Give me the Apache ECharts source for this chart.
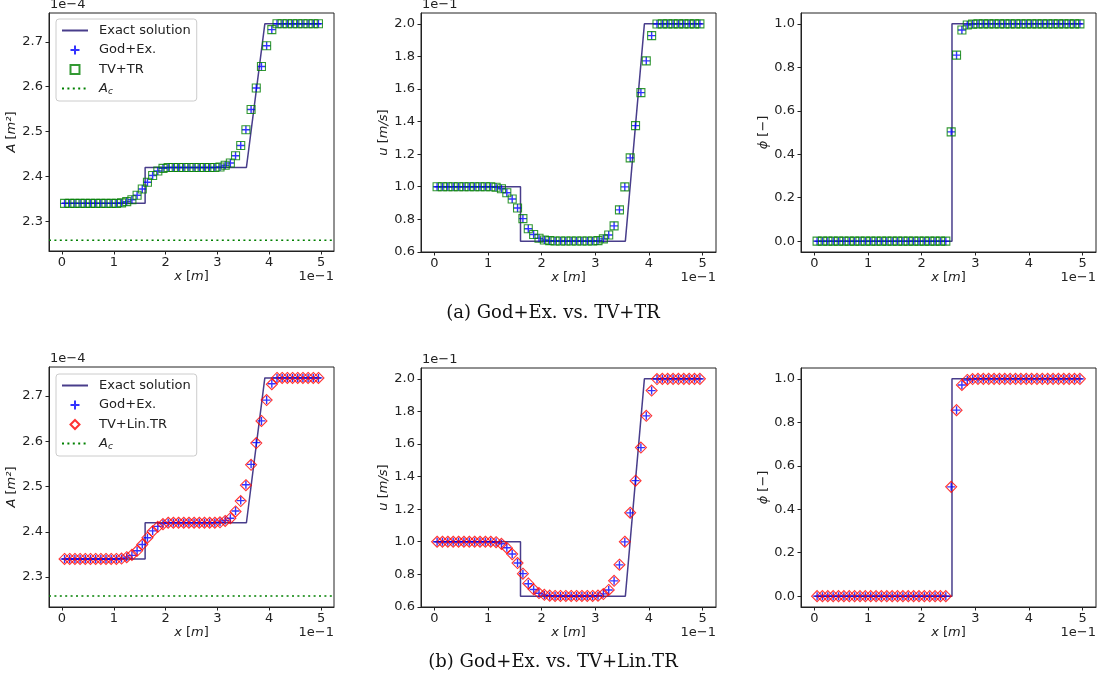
<!DOCTYPE html>
<html>
<head>
<meta charset="utf-8">
<script src="https://cdn.jsdelivr.net/npm/echarts@6/dist/echarts.min.js"></script>
<style>
  html, body { margin: 0; padding: 0; background: #ffffff; }
  #chart { width: 1097px; height: 686px; }
</style>
</head>
<body>
<div id="chart"></div>
<script>
// Cell centres, in units of 1e-1 m
const xCells = [0.05, 0.15, 0.25, 0.35, 0.45, 0.55, 0.65, 0.75, 0.85, 0.95,
                1.05, 1.15, 1.25, 1.35, 1.45, 1.55, 1.65, 1.75, 1.85, 1.95,
                2.05, 2.15, 2.25, 2.35, 2.45, 2.55, 2.65, 2.75, 2.85, 2.95,
                3.05, 3.15, 3.25, 3.35, 3.45, 3.55, 3.65, 3.75, 3.85, 3.95,
                4.05, 4.15, 4.25, 4.35, 4.45, 4.55, 4.65, 4.75, 4.85, 4.95];

// Cross-section A (1e-4 m^2)
const godA = [2.340, 2.340, 2.340, 2.340, 2.340, 2.340, 2.340, 2.340, 2.340, 2.340,
              2.340, 2.341, 2.344, 2.348, 2.358, 2.372, 2.387, 2.402, 2.412, 2.418,
              2.420, 2.420, 2.420, 2.420, 2.420, 2.420, 2.420, 2.420, 2.420, 2.420,
              2.421, 2.425, 2.430, 2.446, 2.469, 2.504, 2.549, 2.597, 2.645, 2.691,
              2.727, 2.740, 2.740, 2.740, 2.740, 2.740, 2.740, 2.740, 2.740, 2.740];
const tvA   = [2.340, 2.340, 2.340, 2.340, 2.340, 2.340, 2.340, 2.340, 2.340, 2.340,
              2.340, 2.341, 2.344, 2.348, 2.358, 2.372, 2.387, 2.402, 2.412, 2.418,
              2.420, 2.420, 2.420, 2.420, 2.420, 2.420, 2.420, 2.420, 2.420, 2.420,
              2.421, 2.425, 2.430, 2.446, 2.469, 2.504, 2.549, 2.597, 2.645, 2.691,
              2.727, 2.740, 2.740, 2.740, 2.740, 2.740, 2.740, 2.740, 2.740, 2.740];
const linA  = [2.340, 2.340, 2.340, 2.340, 2.340, 2.340, 2.340, 2.340, 2.340, 2.340,
              2.340, 2.341, 2.344, 2.349, 2.358, 2.372, 2.387, 2.401, 2.411, 2.417,
              2.420, 2.420, 2.420, 2.420, 2.420, 2.420, 2.420, 2.420, 2.420, 2.420,
              2.421, 2.424, 2.430, 2.445, 2.468, 2.503, 2.548, 2.596, 2.645, 2.691,
              2.726, 2.740, 2.740, 2.740, 2.740, 2.740, 2.740, 2.740, 2.740, 2.740];

// Velocity u (1e-1 m/s)
const godU = [1.000, 1.000, 1.000, 1.000, 1.000, 1.000, 1.000, 1.000, 1.000, 1.000,
              1.000, 0.997, 0.988, 0.963, 0.925, 0.869, 0.804, 0.742, 0.707, 0.684,
              0.673, 0.669, 0.667, 0.667, 0.667, 0.667, 0.667, 0.667, 0.667, 0.667,
              0.669, 0.680, 0.704, 0.760, 0.858, 0.999, 1.177, 1.375, 1.578, 1.773,
              1.928, 1.999, 2.000, 2.000, 2.000, 2.000, 2.000, 2.000, 2.000, 2.000];
const tvU   = [1.000, 1.000, 1.000, 1.000, 1.000, 1.000, 1.000, 1.000, 1.000, 1.000,
              1.000, 0.997, 0.988, 0.963, 0.925, 0.869, 0.804, 0.742, 0.707, 0.684,
              0.673, 0.669, 0.667, 0.667, 0.667, 0.667, 0.667, 0.667, 0.667, 0.667,
              0.669, 0.680, 0.704, 0.760, 0.858, 0.999, 1.177, 1.375, 1.578, 1.773,
              1.928, 1.999, 2.000, 2.000, 2.000, 2.000, 2.000, 2.000, 2.000, 2.000];
const linU  = [1.000, 1.000, 1.000, 1.000, 1.000, 1.000, 1.000, 1.000, 1.000, 1.000,
              1.000, 0.997, 0.987, 0.962, 0.924, 0.869, 0.804, 0.744, 0.708, 0.685,
              0.674, 0.669, 0.667, 0.667, 0.667, 0.667, 0.667, 0.667, 0.667, 0.667,
              0.669, 0.679, 0.704, 0.760, 0.859, 1.000, 1.178, 1.375, 1.578, 1.773,
              1.928, 1.999, 2.000, 2.000, 2.000, 2.000, 2.000, 2.000, 2.000, 2.000];

// Volume fraction phi (-)
const godPhi = [0, 0, 0, 0, 0, 0, 0, 0, 0, 0,
                0, 0, 0, 0, 0, 0, 0, 0, 0, 0,
                0, 0, 0, 0, 0, 0.503, 0.856, 0.972, 0.995, 0.999,
                1, 1, 1, 1, 1, 1, 1, 1, 1, 1,
                1, 1, 1, 1, 1, 1, 1, 1, 1, 1];
const tvPhi  = [0, 0, 0, 0, 0, 0, 0, 0, 0, 0,
                0, 0, 0, 0, 0, 0, 0, 0, 0, 0,
                0, 0, 0, 0, 0, 0.503, 0.856, 0.972, 0.995, 0.999,
                1, 1, 1, 1, 1, 1, 1, 1, 1, 1,
                1, 1, 1, 1, 1, 1, 1, 1, 1, 1];
const linPhi = [0, 0, 0, 0, 0, 0, 0, 0, 0, 0,
                0, 0, 0, 0, 0, 0, 0, 0, 0, 0,
                0, 0, 0, 0, 0, 0.503, 0.856, 0.972, 0.995, 0.999,
                1, 1, 1, 1, 1, 1, 1, 1, 1, 1,
                1, 1, 1, 1, 1, 1, 1, 1, 1, 1];

// Exact Riemann solution (breakpoints)
const exactAX   = [0, 1.605, 1.605, 3.56, 3.915, 5];
const exactAY   = [2.340, 2.340, 2.420, 2.420, 2.740, 2.740];
const exactUX   = [0, 1.605, 1.605, 3.56, 3.915, 5];
const exactUY   = [1.000, 1.000, 0.666, 0.666, 2.000, 2.000];
const exactPhiX = [0, 2.565, 2.565, 5];
const exactPhiY = [0, 0, 1, 1];

// Critical cross-section A_c (1e-4 m^2)
const Ac = 2.258;

// Axis limits and tick labels
const xLim = [-0.25, 5.25];
const xTicks = [0, 1, 2, 3, 4, 5];
const aLim = [2.2339, 2.7641];
const aTicks = [2.3, 2.4, 2.5, 2.6, 2.7];
const uLim = [0.5993, 2.0667];
const uTicks = [0.6, 0.8, 1.0, 1.2, 1.4, 1.6, 1.8, 2.0];
const phiLim = [-0.05, 1.05];
const phiTicks = [0.0, 0.2, 0.4, 0.6, 0.8, 1.0];

const yNames = ['{i|A} [{i|m²}]', '{i|u} [{i|m/s}]', '{i|ϕ} [−]'];
const offsetTexts = ['1e−4', '1e−1', ''];
const captions = ['(a) God+Ex. vs. TV+TR', '(b) God+Ex. vs. TV+Lin.TR'];

// ---- layout ----
const grids = [
  { left: 49,  top: 13,  width: 285, height: 238 },
  { left: 421, top: 13,  width: 295, height: 239 },
  { left: 801, top: 13,  width: 295, height: 239 },
  { left: 49,  top: 367, width: 285, height: 240 },
  { left: 421, top: 368, width: 295, height: 239 },
  { left: 801, top: 368, width: 295, height: 239 }
];

const FONT = 'DejaVu Sans';
const INK = '#222222';
const EXACT_COLOR = '#483d8b';
const PLUS = 'path://M0,5L10,5M5,0L5,10';
const SQUARE = 'path://M0,0L10,0L10,10L0,10Z';
const DIAMOND = 'path://M5,0L10,5L5,10L0,5Z';

const pairs = (xs, ys) => xs.map((x, i) => [x, ys[i]]);

const yLims = [aLim, uLim, phiLim];
const yTicks = [aTicks, uTicks, phiTicks];
const yNameGaps = [25, 25, 25];
const exactX = [exactAX, exactUX, exactPhiX];
const exactY = [exactAY, exactUY, exactPhiY];
const godRows = [godA, godU, godPhi];
const tvRows = [tvA, tvU, tvPhi];
const linRows = [linA, linU, linPhi];

const italicRich = {
  i: { fontStyle: 'italic', fontSize: 13, fontFamily: FONT, color: INK }
};

const xAxes = [], yAxes = [], series = [], graphics = [];

grids.forEach((g, k) => {
  const row = k < 3 ? 0 : 1;
  const col = k % 3;

  xAxes.push({
    type: 'value', gridIndex: k, min: xLim[0], max: xLim[1],
    name: '{i|x} [{i|m}]', nameLocation: 'middle', nameGap: 19,
    nameTextStyle: { fontSize: 13, color: INK, fontFamily: FONT, rich: italicRich },
    axisLine: { show: true, onZero: false, lineStyle: { color: INK, width: 1 } },
    axisTick: { show: true, length: 3.5, lineStyle: { color: INK, width: 1 }, customValues: xTicks },
    axisLabel: { customValues: xTicks, margin: 5, fontSize: 13, color: INK, fontFamily: FONT,
                 formatter: v => String(Math.round(v)) },
    splitLine: { show: false }
  });

  yAxes.push({
    type: 'value', gridIndex: k, min: yLims[col][0], max: yLims[col][1],
    name: yNames[col], nameLocation: 'middle', nameGap: yNameGaps[col], nameRotate: 90,
    nameTextStyle: { fontSize: 13, color: INK, fontFamily: FONT, rich: italicRich },
    axisLine: { show: true, onZero: false, lineStyle: { color: INK, width: 1 } },
    axisTick: { show: true, length: 3.5, lineStyle: { color: INK, width: 1 }, customValues: yTicks[col] },
    axisLabel: { customValues: yTicks[col], margin: 6, fontSize: 13, color: INK, fontFamily: FONT,
                 formatter: v => v.toFixed(1) },
    splitLine: { show: false }
  });

  series.push({
    name: 'Exact solution', type: 'line', xAxisIndex: k, yAxisIndex: k,
    data: pairs(exactX[col], exactY[col]), symbol: 'none', showSymbol: false,
    lineStyle: { color: EXACT_COLOR, width: 1.5 }, itemStyle: { color: EXACT_COLOR },
    z: 2, silent: true
  });

  series.push({
    name: 'God+Ex.', type: 'scatter', xAxisIndex: k, yAxisIndex: k,
    data: pairs(xCells, godRows[col]), symbol: PLUS, symbolSize: 8,
    itemStyle: { color: 'none', borderColor: '#0000ff', borderWidth: 1.4 },
    z: 3, silent: true
  });

  if (row === 0) {
    series.push({
      name: 'TV+TR', type: 'scatter', xAxisIndex: k, yAxisIndex: k,
      data: pairs(xCells, tvRows[col]), symbol: SQUARE, symbolSize: 8,
      itemStyle: { color: 'rgba(0,0,0,0)', borderColor: '#008000', borderWidth: 1.1 },
      z: 4, silent: true
    });
  } else {
    series.push({
      name: 'TV+Lin.TR', type: 'scatter', xAxisIndex: k, yAxisIndex: k,
      data: pairs(xCells, linRows[col]), symbol: DIAMOND, symbolSize: 11,
      itemStyle: { color: 'rgba(0,0,0,0)', borderColor: '#ff0000', borderWidth: 1.1 },
      z: 4, silent: true
    });
  }

  if (col === 0) {
    series.push({
      name: 'A_c', type: 'line', xAxisIndex: k, yAxisIndex: k,
      data: [[xLim[0], Ac], [xLim[1], Ac]], symbol: 'none', showSymbol: false,
      lineStyle: { color: '#008000', width: 1.5, type: [2, 3.4] }, itemStyle: { color: '#008000' },
      z: 2, silent: true
    });
  }

  // scale offset texts
  if (offsetTexts[col]) {
    graphics.push({
      type: 'text', x: g.left + 1, y: g.top - 2, silent: true,
      style: { text: offsetTexts[col], font: '13px "' + FONT + '"', fill: INK,
               align: 'left', verticalAlign: 'bottom', textAlign: 'left', textVerticalAlign: 'bottom' }
    });
  }
  graphics.push({
    type: 'text', x: g.left + g.width, y: g.top + g.height + 19, silent: true,
    style: { text: '1e−1', font: '13px "' + FONT + '"', fill: INK,
             align: 'right', verticalAlign: 'top', textAlign: 'right', textVerticalAlign: 'top' }
  });
});

// figure captions
[313, 662].forEach((y, r) => {
  graphics.push({
    type: 'text', x: 553, y: y, silent: true,
    style: { text: captions[r], font: '18px "DejaVu Serif"', fill: '#111111',
             align: 'center', verticalAlign: 'middle', textAlign: 'center', textVerticalAlign: 'middle' }
  });
});

// line-only legend entries: hide the marker drawn on the line icon
const lineEntry = name => ({ name: name, itemStyle: { opacity: 0 } });

const legendCommon = {
  orient: 'vertical', selectedMode: false,
  padding: [5, 6, 5, 5], itemGap: 6, itemWidth: 26, itemHeight: 9,
  backgroundColor: '#ffffff', borderColor: '#cccccc', borderWidth: 1, borderRadius: 3,
  textStyle: {
    fontSize: 13, color: INK, fontFamily: FONT, lineHeight: 13,
    rich: {
      t: { fontSize: 13, color: INK, fontFamily: FONT, padding: [0, 0, 0, 6] },
      a: { fontSize: 13, color: INK, fontFamily: FONT, fontStyle: 'italic', padding: [0, 0, 0, 6] },
      s: { fontSize: 9, color: INK, fontFamily: FONT, fontStyle: 'italic', padding: [6, 0, 0, 0] }
    }
  },
  formatter: n => n === 'A_c' ? '{a|A}{s|c}' : '{t|' + n + '}'
};

const option = {
  animation: false,
  backgroundColor: '#ffffff',
  textStyle: { fontFamily: FONT },
  grid: grids.map(g => Object.assign({ show: true, borderColor: INK, borderWidth: 1,
                                        backgroundColor: 'transparent', containLabel: false }, g)),
  xAxis: xAxes,
  yAxis: yAxes,
  legend: [
    Object.assign({ left: 56, top: 19,
      data: [lineEntry('Exact solution'), 'God+Ex.', 'TV+TR', lineEntry('A_c')] }, legendCommon),
    Object.assign({ left: 56, top: 374,
      data: [lineEntry('Exact solution'), 'God+Ex.', 'TV+Lin.TR', lineEntry('A_c')] }, legendCommon)
  ],
  series: series,
  graphic: graphics
};

const chart = echarts.init(document.getElementById('chart'), null, { renderer: 'canvas' });
chart.setOption(option);
</script>
</body>
</html>
